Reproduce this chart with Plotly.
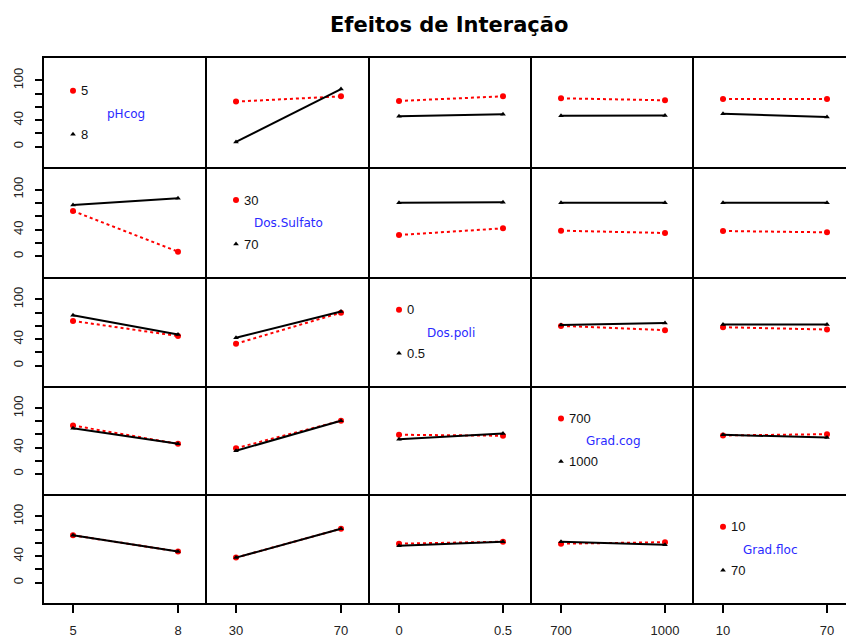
import plotly.graph_objects as go

# ---------------- data ----------------
factors = ["pHcog", "Dos.Sulfato", "Dos.poli", "Grad.cog", "Grad.floc"]
levels = [[5, 8], [30, 70], [0, 0.5], [700, 1000], [10, 70]]
level_labels = [["5", "8"], ["30", "70"], ["0", "0.5"], ["700", "1000"], ["10", "70"]]

# row factor = trace factor (low level red, high level black); column = x factor
ph_5     = [None, [68, 76], [69, 76], [73, 70], [72, 72]]
ph_8     = [None, [7, 87], [46, 49], [46.5, 47], [49.5, 44.5]]
sulf_30  = [[68, 7], None, [32, 42], [38.5, 35], [38, 36]]
sulf_70  = [[77, 87], None, [80.5, 81], [80.5, 80.5], [80.5, 80.5]]
poli_0   = [[67.5, 44.7], [33, 80], None, [60, 53.5], [58, 54.5]]
poli_05  = [[76, 47], [42, 81.7], None, [61.5, 64.5], [62, 62]]
cog_700  = [[73.6, 45.7], [39, 81], [59.5, 58], None, [58.4, 60.4]]
cog_1000 = [[69.5, 45.7], [35, 81], [52.8, 61.5], None, [59.4, 55.3]]
floc_10  = [[71.5, 47], [37.7, 81.4], [58.8, 61.8], [58.8, 61], None]
floc_70  = [[71.5, 47], [37.7, 81.4], [55.8, 61.8], [61.8, 57], None]

low_series = [ph_5, sulf_30, poli_0, cog_700, floc_10]
high_series = [ph_8, sulf_70, poli_05, cog_1000, floc_70]

y_ticks = [0, 20, 40, 60, 80, 100]
y_tick_text = ["0", "", "40", "", "", "100"]
title = "Efeitos de Interação"

# ---------------- layout geometry ----------------
W, H = 846, 637
col_px = [44, 207, 370, 532, 694, 856]
row_px = [58, 167, 277, 386, 494, 603]
PAD = 29
Y_RANGE = [-31, 134]
FONT = "Liberation Sans, Arial, sans-serif"
WIDE = "DejaVu Sans, sans-serif"
RED = "#ff0000"
BLUE = "#2a2aff"

fig = go.Figure()
layout = {}
annotations = []
n = 5

def yval(frac_from_top):
    return Y_RANGE[1] - frac_from_top * (Y_RANGE[1] - Y_RANGE[0])

for i in range(n):
    for j in range(n):
        k = i * n + j + 1
        sfx = "" if k == 1 else str(k)
        left, right = col_px[j], col_px[j + 1]
        right_vis = min(right, W)
        a, b = levels[j]
        pa, pb = left + PAD, right - PAD
        u = (b - a) / (pb - pa)
        xr = [a - PAD * u, a + (right_vis - pa) * u]
        top, bot = row_px[i], row_px[i + 1]

        xax = dict(domain=[left / W, right_vis / W], range=xr, anchor="y" + sfx,
                   showline=True, mirror=(i == 0), linecolor="black", linewidth=2,
                   showgrid=False, zeroline=False, ticks="", showticklabels=False)
        if i == n - 1:
            xax.update(ticks="outside", ticklen=8, tickwidth=1.5, tickcolor="black",
                       tickvals=levels[j], ticktext=level_labels[j], showticklabels=True,
                       tickfont=dict(family=FONT, size=13, color="#222"),
                       ticklabelstandoff=6)
        yax = dict(domain=[1 - bot / H, 1 - top / H], range=Y_RANGE, anchor="x" + sfx,
                   showline=True, mirror=False, linecolor="black", linewidth=2,
                   showgrid=False, zeroline=False, ticks="", showticklabels=False)
        if j == 0:
            yax.update(ticks="outside", ticklen=7, tickwidth=1.5, tickcolor="black",
                       tickvals=y_ticks, ticktext=y_tick_text, showticklabels=True,
                       tickangle=-90, tickfont=dict(family=FONT, size=13, color="#222"),
                       ticklabelstandoff=7)
        layout["xaxis" + sfx] = xax
        layout["yaxis" + sfx] = yax

        if i == j:
            # legend-style diagonal panel
            fig.add_trace(go.Scatter(x=[a], y=[yval(0.30)], mode="markers",
                                     marker=dict(color=RED, size=6, symbol="circle"),
                                     xaxis="x" + sfx, yaxis="y" + sfx, showlegend=False))
            fig.add_trace(go.Scatter(x=[a], y=[yval(0.70)], mode="markers",
                                     marker=dict(color="black", size=5, symbol="triangle-up"),
                                     xaxis="x" + sfx, yaxis="y" + sfx, showlegend=False))
            for lab, fr in ((level_labels[i][0], 0.30), (level_labels[i][1], 0.70)):
                annotations.append(dict(x=a, y=yval(fr), xref="x" + sfx, yref="y" + sfx,
                                        text=lab, showarrow=False, xanchor="left", xshift=6,
                                        font=dict(family=FONT, size=13, color="#111")))
            annotations.append(dict(x=0.5, y=0.49, xref="x" + sfx + " domain",
                                    yref="y" + sfx + " domain", text=factors[i],
                                    showarrow=False, font=dict(family=WIDE, size=12, color=BLUE)))
        else:
            fig.add_trace(go.Scatter(x=levels[j], y=low_series[i][j], mode="lines+markers",
                                     line=dict(color=RED, width=2, dash="dot"),
                                     marker=dict(color=RED, size=6, symbol="circle"),
                                     xaxis="x" + sfx, yaxis="y" + sfx, showlegend=False))
            fig.add_trace(go.Scatter(x=levels[j], y=high_series[i][j], mode="lines+markers",
                                     line=dict(color="black", width=2),
                                     marker=dict(color="black", size=5, symbol="triangle-up"),
                                     xaxis="x" + sfx, yaxis="y" + sfx, showlegend=False))

annotations.append(dict(x=449 / W, y=1 - 25 / H, xref="paper", yref="paper", text="<b>" + title + "</b>",
                        showarrow=False, xanchor="center", yanchor="middle",
                        font=dict(family=WIDE, size=21, color="black")))

fig.update_layout(width=W, height=H, margin=dict(l=0, r=0, t=0, b=0),
                  paper_bgcolor="white", plot_bgcolor="white",
                  annotations=annotations, showlegend=False, **layout)

fig.write_html("out.html")
